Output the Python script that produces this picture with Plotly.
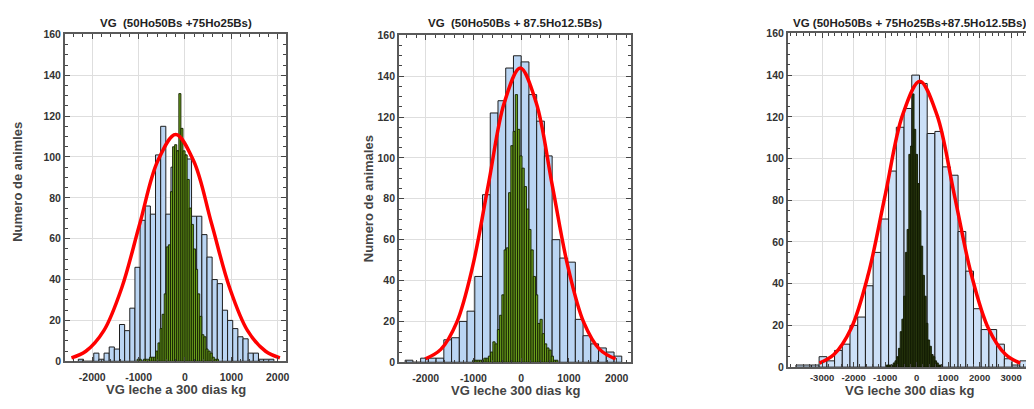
import numpy as np
import plotly.graph_objects as go

# ---------------- data ----------------
# Panel 1: VG (50Ho50Bs +75Ho25Bs)
blue1_start = -2300
blue1_width = 111
blue1_counts = [1, 0, 0, 4, 1, 4, 7, 6, 18, 15, 26, 46, 69, 76, 72, 101, 115, 72, 95, 103,
                101, 99, 71, 71, 62, 51, 40, 38, 25, 20, 16, 12, 11, 4, 4, 1, 1, 1]
green1_first_center = -1010
green1_width = 45
green1_counts = [1, 1, 0, 1, 1, 1, 2, 2, 2, 5, 9, 16, 23, 33, 56, 57, 83, 105, 106, 103,
                 131, 114, 103, 101, 89, 75, 67, 55, 45, 33, 22, 13, 12, 6, 5, 4, 2, 1, 1]
curve1_x = [-2448, -2138, -1750, -1363, -975, -588, -200, 188, 575, 963, 1350, 1738, 2048]
curve1_y = [1.7, 4.9, 15.0, 36.0, 67.3, 98.0, 111, 98.0, 67.3, 36.0, 15.0, 4.9, 1.7]

# Panel 2: VG (50Ho50Bs + 87.5Ho12.5Bs)
blue2_start = -2430
blue2_width = 162
blue2_counts = [1, 0, 2, 2, 2, 11, 12, 20, 25, 42, 82, 122, 128, 144, 150, 147, 131, 118,
                101, 60, 51, 49, 21, 13, 9, 7, 5, 3]
green2_first_center = -993
green2_width = 47
green2_counts = [1, 1, 1, 1, 1, 2, 2, 3, 5, 10, 9, 16, 23, 33, 55, 56, 83, 106, 113,
                 131, 114, 101, 95, 86, 75, 65, 55, 42, 33, 19, 21, 14, 9, 7, 6, 3, 1, 1]
curve2_x = [-2015, -1683, -1350, -1018, -685, -353, -20, 313, 645, 978, 1310, 1643, 1975]
curve2_y = [1.6, 6.3, 19.5, 46.8, 87.3, 127.1, 144, 127.1, 87.3, 46.8, 19.5, 6.3, 1.6]

# Panel 3: VG (50Ho50Bs + 75Ho25Bs+87.5Ho12.5Bs)
blue3_start = -3830
blue3_width = 245
blue3_counts = [1, 1, 1, 5, 3, 8, 11, 20, 24, 39, 55, 71, 94, 115, 124, 140, 136, 112, 113,
                96, 92, 65, 46, 28, 18, 18, 11, 4, 1, 3]
green3_first_center = -935
green3_width = 55
green3_counts = [1, 1, 1, 1, 2, 3, 5, 9, 17, 23, 34, 55, 66, 102, 106, 131, 114, 102, 88,
                 75, 58, 44, 34, 21, 13, 10, 6, 5, 3, 2, 1, 1]
curve3_x = [-3083, -2625, -2080, -1535, -990, -445, 100, 645, 1190, 1735, 2280, 2825, 3283]
curve3_y = [1.9, 6.0, 18.5, 44.5, 83.1, 120.9, 137, 120.9, 83.1, 44.5, 18.5, 6.0, 1.9]

titles = ["VG\u00a0 (50Ho50Bs +75Ho25Bs)",
          "VG\u00a0 (50Ho50Bs + 87.5Ho12.5Bs)",
          "VG (50Ho50Bs + 75Ho25Bs+87.5Ho12.5Bs)"]
x_titles = ["VG leche a 300 dias kg", "VG leche 300 dias kg", "VG leche 300 dias kg"]
y_titles = ["Numero de animles", "Numero de animales", None]
y_ticks = [0, 20, 40, 60, 80, 100, 120, 140, 160]
x_ticks_12 = [-2000, -1000, 0, 1000, 2000]
x_ticks_3 = [-3000, -2000, -1000, 0, 1000, 2000, 3000]

# ---------------- figure ----------------
VW, VH = 1034, 409          # browser window
OFF = 8                     # default body margin of the html page
W, H = VW - OFF, VH - OFF   # figure size so it ends at the window edge
FONT = "Liberation Sans, Arial, sans-serif"


def px_x(X):
    return (X - OFF) / W


def px_y(Y):
    return 1 - (Y - OFF) / H


panels = [
    dict(blue=(blue1_start, blue1_width, blue1_counts), green=(green1_first_center, green1_width, green1_counts),
         curve=(curve1_x, curve1_y), xpx=(65, 287), ypx=(29, 366), xr=(-2591, 2183), xt=x_ticks_12,
         blue_col="#BAD5F3", green_col="#6A9E1C", green_line="#142000", tick_size=10.5, standoff=5,
         xtitle_y=395),
    dict(blue=(blue2_start, blue2_width, blue2_counts), green=(green2_first_center, green2_width, green2_counts),
         curve=(curve2_x, curve2_y), xpx=(400, 633), ypx=(30, 367), xr=(-2562, 2303), xt=x_ticks_12,
         blue_col="#BAD5F3", green_col="#6A9E1C", green_line="#142000", tick_size=10.5, standoff=5,
         xtitle_y=396),
    dict(blue=(blue3_start, blue3_width, blue3_counts), green=(green3_first_center, green3_width, green3_counts),
         curve=(curve3_x, curve3_y), xpx=(790, 1034), ypx=(28, 372), xr=(-4092, 3630), xt=x_ticks_3,
         blue_col="#CCE0F7", green_col="#2E3D10", green_line="#101800", tick_size=9.5, standoff=1,
         xtitle_y=396),
]

fig = go.Figure()
layout = dict(width=W, height=H, margin=dict(l=0, r=0, t=0, b=0), barmode="overlay",
              plot_bgcolor="white", paper_bgcolor="white", showlegend=False,
              font=dict(family=FONT, color="#333"))
annotations = []

for i, p in enumerate(panels):
    n = "" if i == 0 else str(i + 1)
    xa, ya = "x" + n, "y" + n
    bs, bw, bc = p["blue"]
    bx = bs + bw * (np.arange(len(bc)) + 0.5)
    fig.add_trace(go.Bar(x=bx, y=bc, width=bw, xaxis=xa, yaxis=ya,
                         marker=dict(color=p["blue_col"], line=dict(color="#1E1E1E", width=1))))
    gs, gw, gc = p["green"]
    gx = gs + gw * np.arange(len(gc))
    fig.add_trace(go.Bar(x=gx, y=gc, width=gw, xaxis=xa, yaxis=ya,
                         marker=dict(color=p["green_col"], line=dict(color=p["green_line"], width=0.9))))
    cx, cy = p["curve"]
    fig.add_trace(go.Scatter(x=cx, y=cy, mode="lines", xaxis=xa, yaxis=ya,
                             line=dict(color="#FF0000", width=3.5, shape="spline")))

    x0, x1 = px_x(p["xpx"][0]), min(px_x(p["xpx"][1]), 1.0)
    y0, y1 = px_y(p["ypx"][1]), px_y(p["ypx"][0])
    axis_common = dict(showline=True, linecolor="#5A5A5A", linewidth=1.5,
                       ticks="inside", ticklen=5, tickcolor="#444", tickwidth=1,
                       showgrid=True, gridcolor="#DEDEDE", gridwidth=1, zeroline=False)
    layout["xaxis" + n] = dict(domain=[x0, x1], range=list(p["xr"]), anchor=ya,
                               tickmode="array", tickvals=p["xt"], ticktext=[str(v) for v in p["xt"]],
                               mirror="ticks", ticklabelstandoff=p["standoff"],
                               tickfont=dict(family=FONT, size=p["tick_size"], color="#333", weight="bold"),
                               minor=dict(dtick=200, tick0=0, ticks="inside", ticklen=3, tickcolor="#444",
                                          showgrid=False),
                               **axis_common)
    layout["yaxis" + n] = dict(domain=[y0, y1], range=[0, 160], anchor=xa,
                               tickmode="array", tickvals=y_ticks, ticktext=[str(v) for v in y_ticks],
                               mirror=("ticks" if i < 2 else False),
                               tickfont=dict(family=FONT, size=10.5, color="#333", weight="bold"),
                               minor=dict(dtick=5, tick0=0, ticks="inside", ticklen=3, tickcolor="#444",
                                          showgrid=False),
                               **axis_common)

    cxp = (p["xpx"][0] + p["xpx"][1]) / 2
    annotations.append(dict(text=titles[i], x=px_x(cxp), y=px_y(17), xref="paper", yref="paper",
                            xanchor="center", yanchor="middle", showarrow=False,
                            font=dict(family=FONT, size=11.5, color="#222", weight="bold")))
    annotations.append(dict(text=x_titles[i], x=px_x(cxp), y=px_y(p["xtitle_y"]), xref="paper", yref="paper",
                            xanchor="center", yanchor="middle", showarrow=False,
                            font=dict(family=FONT, size=13, color="#444", weight="bold")))
    if y_titles[i]:
        yx = [18, 369][i]
        yy = [181, 198][i]
        annotations.append(dict(text=y_titles[i], x=px_x(yx), y=px_y(yy), xref="paper", yref="paper",
                                xanchor="center", yanchor="middle", showarrow=False, textangle=-90,
                                font=dict(family=FONT, size=13, color="#444", weight="bold")))

layout["annotations"] = annotations
fig.update_layout(**layout)
fig.write_html("out.html")
